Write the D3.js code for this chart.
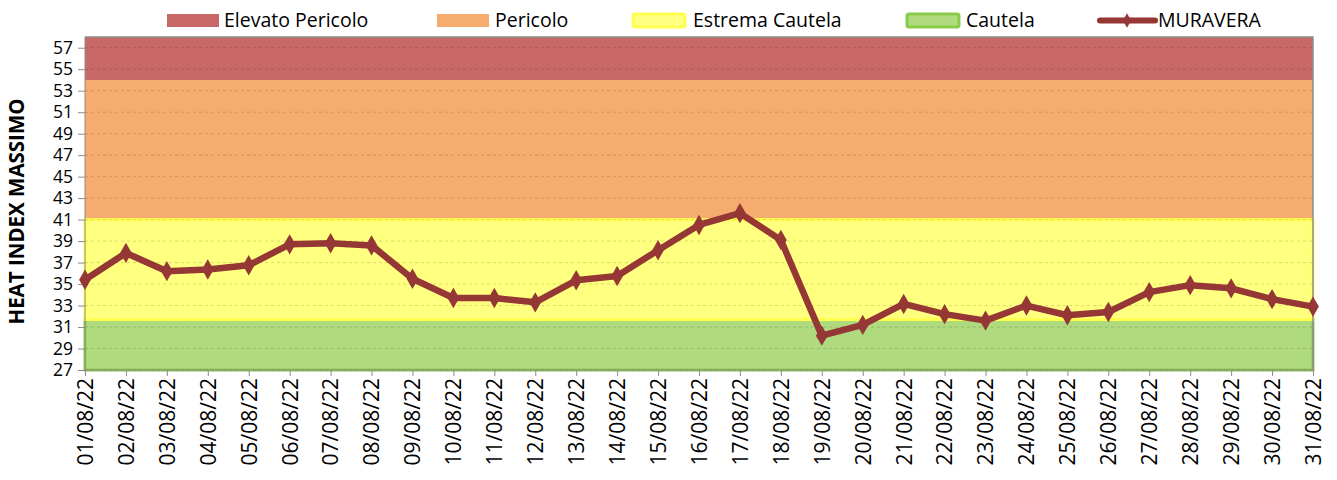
<!DOCTYPE html>
<html>
<head>
<meta charset="utf-8">
<script src="https://cdn.jsdelivr.net/npm/d3@7"></script>
<style>
  body { margin: 0; background: #fff; }
  text { font-family: "Open Sans", "Noto Sans", sans-serif; }
</style>
</head>
<body>
<svg id="chart"></svg>
<script>
(function () {

    const width = 1337;
    const height = 480;
    const margin = { top: 37, right: 24, bottom: 110, left: 85 };

    const dates = ["01/08/22", "02/08/22", "03/08/22", "04/08/22", "05/08/22", "06/08/22",
        "07/08/22", "08/08/22", "09/08/22", "10/08/22", "11/08/22", "12/08/22", "13/08/22",
        "14/08/22", "15/08/22", "16/08/22", "17/08/22", "18/08/22", "19/08/22", "20/08/22",
        "21/08/22", "22/08/22", "23/08/22", "24/08/22", "25/08/22", "26/08/22", "27/08/22",
        "28/08/22", "29/08/22", "30/08/22", "31/08/22"];
    const muravera = [35.4, 37.9, 36.2, 36.35, 36.75, 38.7, 38.8, 38.6, 35.5, 33.7, 33.7,
        33.3, 35.35, 35.75, 38.15, 40.5, 41.6, 39.1, 30.2, 31.2, 33.15, 32.2, 31.6, 33.0,
        32.1, 32.4, 34.25, 34.9, 34.6, 33.6, 32.9];

    const bandNames = ["Cautela", "Estrema Cautela", "Pericolo", "Elevato Pericolo"];
    const bandLows = [27, 31.7, 41, 54];
    const bandHighs = [31.7, 41, 54, 58];
    const yTicks = d3.range(27, 58, 2);

    const bandFill = { "Cautela": "#afdb7e", "Estrema Cautela": "#ffff80", "Pericolo": "#f6ac6f", "Elevato Pericolo": "#c86968" };
    const bandStroke = { "Cautela": "#8ccb4a", "Estrema Cautela": "#ffff50", "Pericolo": "#f9a65a", "Elevato Pericolo": "#c0504d" };
    const lineColor = "#953735";

    const svg = d3.select("#chart")
        .attr("width", width)
        .attr("height", height);

    const x = d3.scalePoint()
        .domain(dates)
        .range([margin.left, width - margin.right]);

    const y = d3.scaleLinear()
        .domain([27, 58])
        .range([height - margin.bottom, margin.top]);

    const x0 = x(dates[0]);
    const x1 = x(dates[dates.length - 1]);

    // bands
    const bands = bandNames.map((n, i) => ({ name: n, lo: bandLows[i], hi: bandHighs[i] }));
    svg.append("g")
        .selectAll("rect")
        .data(bands)
        .enter()
        .append("rect")
        .attr("x", x0)
        .attr("width", x1 - x0)
        .attr("y", d => y(d.hi))
        .attr("height", d => y(d.lo) - y(d.hi))
        .attr("fill", d => bandFill[d.name]);

    svg.append("g")
        .selectAll("rect")
        .data(bands.slice(0, 2))
        .enter()
        .append("rect")
        .attr("x", x0)
        .attr("width", x1 - x0)
        .attr("y", d => y(d.hi))
        .attr("height", d => y(d.lo) - y(d.hi))
        .attr("fill", "none")
        .attr("stroke", d => bandStroke[d.name])
        .attr("stroke-width", 3);

    // gridlines
    svg.append("g")
        .selectAll("line")
        .data(yTicks)
        .enter()
        .append("line")
        .attr("x1", x0)
        .attr("x2", x1)
        .attr("y1", d => y(d))
        .attr("y2", d => y(d))
        .attr("stroke", "#000")
        .attr("stroke-opacity", 0.15)
        .attr("stroke-dasharray", "3,3");

    // plot border top / right
    svg.append("path")
        .attr("d", `M${x0},${y(58)}H${x1}V${y(27)}`)
        .attr("fill", "none")
        .attr("stroke", "#8c8c8c")
        .attr("stroke-width", 1.5);

    // y axis
    const yAxis = svg.append("g")
        .attr("transform", `translate(${x0},0)`)
        .call(d3.axisLeft(y).tickValues(yTicks).tickSize(7).tickPadding(5));
    yAxis.select(".domain").attr("stroke", "#8c8c8c").attr("d", `M0,${y(58)}V${y(27)}`);
    yAxis.selectAll(".tick line").attr("stroke", "#8c8c8c");
    yAxis.selectAll("text").attr("font-size", 17.5).attr("fill", "#000");

    // x axis
    const xAxis = svg.append("g")
        .attr("transform", `translate(0,${y(27)})`)
        .call(d3.axisBottom(x).tickSize(6).tickSizeOuter(0));
    xAxis.select(".domain").attr("stroke", "#8c8c8c").attr("d", `M${x0},0H${x1}`);
    xAxis.selectAll(".tick line").attr("stroke", "#8c8c8c");
    xAxis.selectAll("text")
        .attr("font-size", 21)
        .attr("fill", "#000")
        .attr("transform", "rotate(-90)")
        .attr("text-anchor", "end")
        .attr("x", -8)
        .attr("y", 0)
        .attr("dy", "0.35em");

    svg.append("text")
        .attr("transform", `translate(24,${(y(27) + y(58)) / 2 + 8}) rotate(-90)`)
        .attr("text-anchor", "middle")
        .attr("font-size", 20.5)
        .attr("font-weight", "bold")
        .text("HEAT INDEX MASSIMO");

    // series
    const line = d3.line()
        .x((d, i) => x(dates[i]))
        .y(d => y(d));

    svg.append("path")
        .datum(muravera)
        .attr("d", line)
        .attr("fill", "none")
        .attr("stroke", lineColor)
        .attr("stroke-width", 6.5)
        .attr("stroke-linejoin", "round");

    svg.append("g")
        .selectAll("path")
        .data(muravera)
        .enter()
        .append("path")
        .attr("d", d3.symbol().type(d3.symbolDiamond).size(120))
        .attr("transform", (d, i) => `translate(${x(dates[i])},${y(d)})`)
        .attr("fill", lineColor);

    // legend
    const legend = [
        { name: "Elevato Pericolo", sx: 167, tx: 224 },
        { name: "Pericolo", sx: 437, tx: 495 },
        { name: "Estrema Cautela", sx: 633, tx: 693 },
        { name: "Cautela", sx: 907, tx: 966 }
    ];
    const lg = svg.append("g");
    lg.selectAll("rect.sw")
        .data(legend)
        .enter()
        .append("rect")
        .attr("class", "sw")
        .attr("x", d => d.sx)
        .attr("y", 14)
        .attr("width", 52)
        .attr("height", 13)
        .attr("rx", d => (d.name === "Cautela" || d.name === "Estrema Cautela") ? 2 : 0)
        .attr("fill", d => bandFill[d.name])
        .attr("stroke", d => (d.name === "Cautela" || d.name === "Estrema Cautela") ? bandStroke[d.name] : "none")
        .attr("stroke-width", 3);
    lg.selectAll("text")
        .data(legend)
        .enter()
        .append("text")
        .attr("x", d => d.tx)
        .attr("y", 27)
        .attr("font-size", 19.5)
        .text(d => d.name);

    lg.append("line")
        .attr("x1", 1100).attr("x2", 1155)
        .attr("y1", 20.5).attr("y2", 20.5)
        .attr("stroke", lineColor)
        .attr("stroke-width", 6)
        .attr("stroke-linecap", "round");
    lg.append("path")
        .attr("d", d3.symbol().type(d3.symbolDiamond).size(60))
        .attr("transform", "translate(1127,20.5)")
        .attr("fill", lineColor);
    lg.append("text")
        .attr("x", 1158)
        .attr("y", 27)
        .attr("font-size", 19.5)
        .text("MURAVERA");

})();
</script>
</body>
</html>
